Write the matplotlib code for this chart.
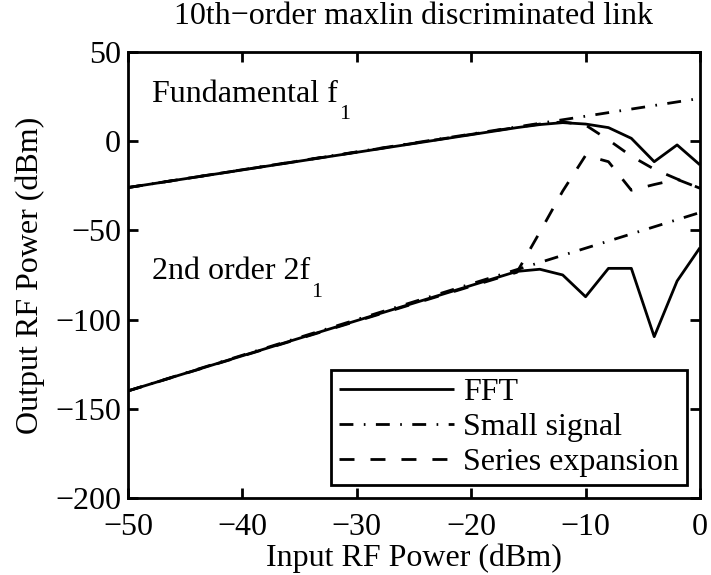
import matplotlib
matplotlib.use("Agg")
import matplotlib.pyplot as plt

FS = 23

plt.rcParams.update({
    "font.family": ["Liberation Serif", "DejaVu Serif"],
    "font.size": FS,
    "axes.unicode_minus": True,
    "lines.scale_dashes": False,
})

# Small-signal (linear) predictions, defined by their end points
ss_x = [-50, 0]
ss_fund = [-26, 24]
ss_2nd = [-140, -40]

# FFT of the simulated link output
fft_x = [-50, -16, -14, -12, -10, -8, -6, -4, -2, 0]
fft_fund = [-26, 7.6, 9.3, 10.4, 9.6, 7.6, 1.6, -11.5, -2.1, -13.3]
fft_2nd = [-140, -73, -71.8, -75, -87.2, -71.3, -71.3, -109.6, -78.4, -59.7]

# Series-expansion predictions
ser_x = [-50, -16, -14, -12, -10, -8, -6, -4, -2, 0]
ser_fund = [-26, 7.8, 9.6, 10.8, 9, 0.7, -8.4, -15.7, -21.2, -26.4]
ser_2nd = [-140, -73.5, -51, -28, -8, -11.5, -27.5, -24.3, -21.4, -26.4]

x_ticks = [-50, -40, -30, -20, -10, 0]
y_ticks = [-200, -150, -100, -50, 0, 50]

DASHDOT = (0, (10, 7.5, 1.2, 7.5))
DASHED = (0, (10.8, 11.5))
LW = 2.0

fig = plt.figure(figsize=(7.11, 5.75), dpi=100)
ax = fig.add_axes([0.180, 0.134, 0.8045, 0.7756])

kw = dict(color="black", lw=LW, dash_capstyle="butt", solid_capstyle="butt")
ax.plot(ser_x, ser_fund, linestyle=DASHED, label="Series expansion", **kw)
ax.plot(ss_x, ss_fund, linestyle=DASHDOT, label="Small signal", **kw)
ax.plot(fft_x, fft_fund, "-", label="FFT", **kw)
ax.plot(ser_x, ser_2nd, linestyle=DASHED, **kw)
ax.plot(ss_x, ss_2nd, linestyle=DASHDOT, **kw)
ax.plot(fft_x, fft_2nd, "-", **kw)

ax.set_xlim(-50, 0)
ax.set_ylim(-200, 50)
ax.set_xticks(x_ticks)
ax.set_yticks(y_ticks)
ax.tick_params(direction="in", length=7.5, width=2, top=True, right=True,
               labelsize=FS)
ax.tick_params(axis="x", pad=11)
ax.tick_params(axis="y", pad=5)
for s in ax.spines.values():
    s.set_linewidth(2)


def label_with_sub(x, y, main, sub):
    """Curve label with a low-set subscript, placed after the main text."""
    t = ax.text(x, y, main, fontsize=FS, va="baseline", ha="left")
    ax.annotate(sub, xy=(1, 0), xycoords=t, xytext=(0.5, 2.5),
                textcoords="offset points", fontsize=FS * 0.68,
                va="top", ha="left")


label_with_sub(-47.9, 22, "Fundamental f", "1")
label_with_sub(-47.9, -77.4, "2nd order 2f", "1")

ax.set_title("10th\u2212order maxlin discriminated link", fontsize=FS, pad=20)
ax.set_xlabel("Input RF Power (dBm)", fontsize=FS, labelpad=1)
ax.set_ylabel("Output RF Power (dBm)", fontsize=FS, labelpad=7)

handles, labels = ax.get_legend_handles_labels()
order = [2, 1, 0]
leg = ax.legend([handles[i] for i in order], [labels[i] for i in order],
                loc="lower right", handlelength=3.6, handletextpad=0.28,
                labelspacing=0.18, borderaxespad=0.4, borderpad=0.25,
                fancybox=False, framealpha=1, edgecolor="black", fontsize=FS)
leg.get_frame().set_linewidth(2)

fig.savefig("out.png", dpi=100)
